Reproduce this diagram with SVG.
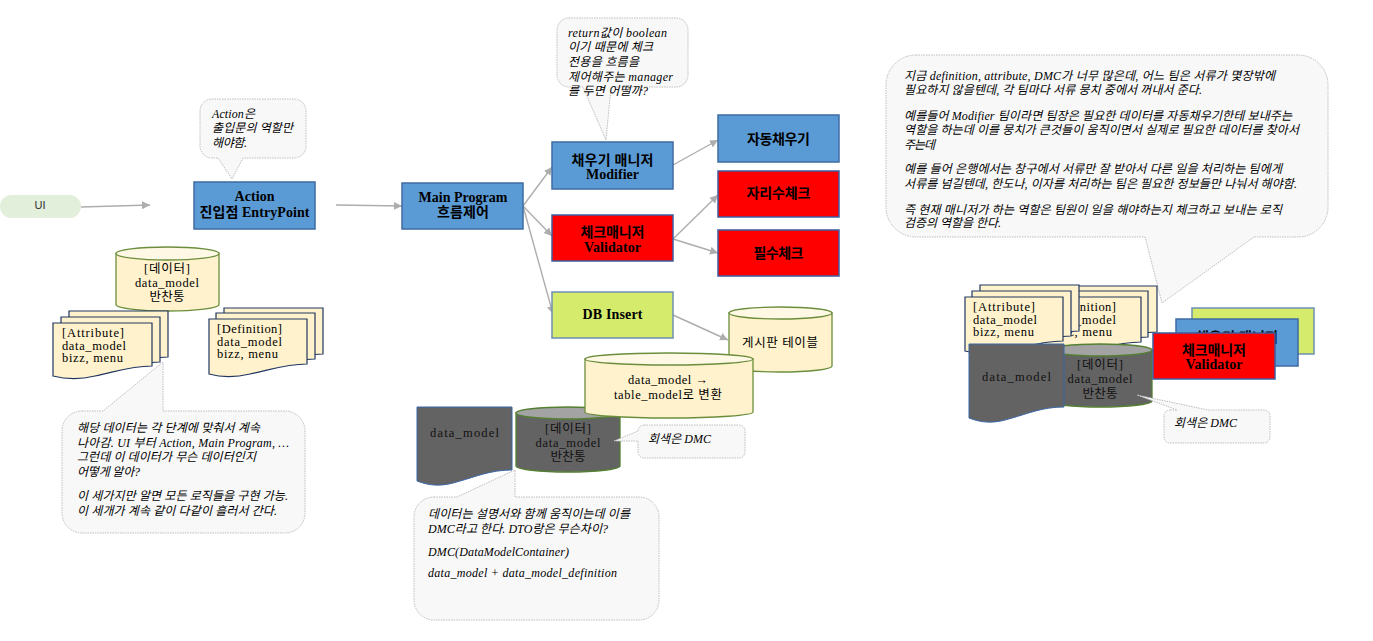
<svg xmlns="http://www.w3.org/2000/svg" width="1373" height="641" viewBox="0 0 1373 641">
<style>
text{font-family:"Liberation Serif","Noto Sans CJK KR",serif;fill:#000;font-size:13px}
.b{font-weight:bold;font-size:14px;text-anchor:middle}
.c{text-anchor:middle;font-size:12.500px}
.d{font-size:12.500px}
.n{font-style:italic;font-size:12px}
.g{fill:#111}
.blue{fill:#5B9BD5;stroke:#3E6BA3;stroke-width:1.5}
.red{fill:#FF0000;stroke:#3E5C9E;stroke-width:1.5}
.lime{fill:#D4EB6C;stroke:#6F8FB0;stroke-width:1.5}
.call{fill:#F8F8F8;stroke:#BDBDBD;stroke-width:1;stroke-dasharray:1.5 1}
.doc{fill:#FFF2CC;stroke:#20365F;stroke-width:1.2}
.gdoc{fill:#636363;stroke:#3A67A8;stroke-width:1}
.cy{fill:#FFF2CC;stroke:#6B8E3C;stroke-width:1.3}
.ct{fill:#FFF8E5;stroke:#6B8E3C;stroke-width:1.3}
.gy{fill:#636363;stroke:#557F33;stroke-width:1.3}
.gt{fill:#A3A3A3;stroke:#557F33;stroke-width:1.3}
.conn{fill:none;stroke:#ADADAD;stroke-width:1.4;marker-end:url(#arr)}
</style>
<defs>
<marker id="arr" markerUnits="userSpaceOnUse" markerWidth="9" markerHeight="9" refX="8" refY="4.5" orient="auto"><path d="M0,0.5L8,4.5L0,8.5Z" fill="#ADADAD"/></marker>
</defs>

<g id="connectors">
<path class="conn" d="M81,207L150,205"/>
<path class="conn" d="M336,205L402,206"/>
<path class="conn" d="M523,206L552,167"/>
<path class="conn" d="M523,206L552,236"/>
<path class="conn" d="M523,206L553,314"/>
<path class="conn" d="M673,165L718,140"/>
<path class="conn" d="M673,239L718,195"/>
<path class="conn" d="M673,239L718,253"/>
<path class="conn" d="M673,315L728,340"/>
</g>

<g id="ui"><rect x="0" y="195" width="81" height="23" rx="11.500" fill="#E2EFDA"/><text x="40" y="209" text-anchor="middle" style="font-family:'Liberation Sans',sans-serif;font-size:11px;fill:#333">UI</text></g>

<g id="note-action"><path class="call" d="M212,99H294A12,12 0 0 1 306,111V146A12,12 0 0 1 294,158H243L232,179L218,158H212A12,12 0 0 1 200,146V111A12,12 0 0 1 212,99Z"/>
<text class="n" x="212" y="118" textLength="43">Action은</text>
<text class="n" x="212" y="132" textLength="81">출입문의 역할만</text>
<text class="n" x="212" y="147" textLength="35">해야함.</text></g>

<g id="action"><rect class="blue" x="194" y="182" width="121" height="47"/>
<text class="b" x="254.500" y="201" textLength="40">Action</text>
<text class="b" x="254.500" y="217" textLength="110">진입점 EntryPoint</text></g>

<g id="main"><rect class="blue" x="402" y="183" width="121" height="46"/>
<text class="b" x="463" y="202" textLength="89">Main Program</text>
<text class="b" x="463" y="217" textLength="52">흐름제어</text></g>

<g id="note-return"><path class="call" d="M569,18H676A12,12 0 0 1 688,30V75A12,12 0 0 1 676,87H611L606,140L583,87H569A12,12 0 0 1 557,75V30A12,12 0 0 1 569,18Z"/>
<text class="n" x="568" y="37" textLength="99">return값이 boolean</text>
<text class="n" x="568" y="51" textLength="85">이기 때문에 체크</text>
<text class="n" x="568" y="66" textLength="71">전용을 흐름을</text>
<text class="n" x="568" y="81" textLength="105">제어해주는 manager</text>
<text class="n" x="568" y="95" textLength="80">를 두면 어떨까?</text></g>

<g id="modifier"><rect class="blue" x="552" y="142" width="121" height="47"/>
<text class="b" x="612.500" y="165" textLength="82">채우기 매니저</text>
<text class="b" x="612.500" y="179" textLength="53">Modifier</text></g>

<g id="validator"><rect class="red" x="552" y="215" width="121" height="46"/>
<text class="b" x="612.500" y="237" textLength="64">체크매니저</text>
<text class="b" x="612.500" y="252" textLength="57">Validator</text></g>

<g id="dbinsert"><rect class="lime" x="552" y="292" width="121" height="46"/>
<text class="b" x="612.500" y="319" textLength="60">DB Insert</text></g>

<g id="autofill"><rect class="blue" x="718" y="115" width="121" height="47"/>
<text class="b" x="778.500" y="144" textLength="63">자동채우기</text></g>
<g id="digits"><rect class="red" x="718" y="171" width="121" height="46"/>
<text class="b" x="778.500" y="198" textLength="64">자리수체크</text></g>
<g id="required"><rect class="red" x="718" y="230" width="121" height="46"/>
<text class="b" x="778.500" y="258" textLength="50">필수체크</text></g>

<g id="data-cyl"><path class="cy" d="M116,253.500V304.500A51.500,6.500 0 0 0 219,304.500V253.500Z"/><ellipse class="ct" cx="167.500" cy="253.500" rx="51.500" ry="6.500"/>
<text class="c" x="167" y="273" textLength="46">[데이터]</text>
<text class="c" x="167" y="287" textLength="64">data_model</text>
<text class="c" x="167" y="301" textLength="35">반찬통</text></g>

<g id="attribute-docs">
<path class="doc" d="M69,311h99v46c-22,0 -37,6 -57,10c-17,4 -30,3 -42,0z"/>
<path class="doc" d="M61,317h99v45c-22,0 -37,6 -57,10c-17,4 -30,3 -42,0z"/>
<path class="doc" d="M53,323h99v43c-22,0 -37,6 -57,10c-17,4 -30,3 -42,0z"/>
<text class="d" x="62" y="337" textLength="62">[Attribute]</text>
<text class="d" x="62" y="350" textLength="64">data_model</text>
<text class="d" x="62" y="362" textLength="61">bizz, menu</text></g>

<g id="definition-docs">
<path class="doc" d="M224,308h99v46c-22,0 -37,6 -57,10c-17,4 -30,3 -42,0z"/>
<path class="doc" d="M216,313h99v46c-22,0 -37,6 -57,10c-17,4 -30,3 -42,0z"/>
<path class="doc" d="M209,319h98v45c-22,0 -37,6 -57,10c-17,4 -30,3 -41,0z"/>
<text class="d" x="217" y="333" textLength="65">[Definition]</text>
<text class="d" x="217" y="346" textLength="65">data_model</text>
<text class="d" x="217" y="358" textLength="61">bizz, menu</text></g>

<g id="note-data"><path class="call" d="M82,411H103L163,362V411H285A20,20 0 0 1 305,431V513A20,20 0 0 1 285,533H82A20,20 0 0 1 62,513V431A20,20 0 0 1 82,411Z"/>
<text class="n" x="77" y="432" textLength="183">해당 데이터는 각 단계에 맞춰서 계속</text>
<text class="n" x="77" y="447" textLength="212">나아감. UI 부터 Action, Main Program, …</text>
<text class="n" x="77" y="461" textLength="179">그런데 이 데이터가 무슨 데이터인지</text>
<text class="n" x="77" y="476" textLength="63">어떻게 알아?</text>
<text class="n" x="77" y="500" textLength="211">이 세가지만 알면 모든 로직들을 구현 가능.</text>
<text class="n" x="77" y="515" textLength="200">이 세개가 계속 같이 다같이 흘러서 간다.</text></g>

<g id="board-table"><path class="cy" d="M729,313V366A51.500,6 0 0 0 832,366V313Z"/><ellipse class="ct" cx="780.500" cy="313" rx="51.500" ry="6"/>
<text class="c" x="780" y="347" textLength="76">게시판 테이블</text></g>

<g id="gray-cyl"><path class="gy" d="M516,413V466A52,6 0 0 0 620,466V413Z"/><ellipse class="gt" cx="568" cy="413" rx="52" ry="6"/>
<text class="c g" x="568" y="433" textLength="46">[데이터]</text>
<text class="c g" x="568" y="447" textLength="65">data_model</text>
<text class="c g" x="568" y="461" textLength="35">반찬통</text></g>

<g id="convert-cyl"><path class="cy" d="M585,359V412A84,6 0 0 0 753,412V359Z"/><ellipse class="ct" cx="669" cy="359" rx="84" ry="6"/>
<text class="c" x="668" y="384" textLength="80">data_model →</text>
<text class="c" x="668" y="399" textLength="108">table_model로 변환</text></g>

<g id="gray-doc"><path class="gdoc" d="M417,407H512V470C490,470 475,477 460,481C442,487 430,486 417,481Z"/>
<text class="d g" x="430" y="437" textLength="69">data_model</text></g>

<g id="note-dmc"><path class="call" d="M644,425H739A6,6 0 0 1 745,431V452A6,6 0 0 1 739,458H644A6,6 0 0 1 638,452V441L614,441L638,431A6,6 0 0 1 644,425Z"/>
<text class="n" x="648" y="443" textLength="63">회색은 DMC</text></g>

<g id="note-dmc-desc"><path class="call" d="M434,497H457L515,470V497H639A20,20 0 0 1 659,517V600A20,20 0 0 1 639,620H434A20,20 0 0 1 414,600V517A20,20 0 0 1 434,497Z"/>
<text class="n" x="428" y="518" textLength="202">데이터는 설명서와 함께 움직이는데 이를</text>
<text class="n" x="428" y="533" textLength="180">DMC라고 한다. DTO랑은 무슨차이?</text>
<text class="n" x="428" y="556" textLength="141">DMC(DataModelContainer)</text>
<text class="n" x="428" y="577" textLength="189">data_model + data_model_definition</text></g>

<g id="note-manager"><path class="call" d="M916,55H1298A30,30 0 0 1 1328,85V207A30,30 0 0 1 1298,237H1254L1162,303L1145,237H916A30,30 0 0 1 886,207V85A30,30 0 0 1 916,55Z"/>
<text class="n" x="904" y="80" textLength="371">지금 definition, attribute, DMC가 너무 많은데, 어느 팀은 서류가 몇장밖에</text>
<text class="n" x="904" y="94" textLength="298">필요하지 않을텐데, 각 팀마다 서류 뭉치 중에서 꺼내서 준다.</text>
<text class="n" x="904" y="120" textLength="388">예를들어 Modifier 팀이라면 팀장은 필요한 데이터를 자동채우기한테 보내주는</text>
<text class="n" x="904" y="134" textLength="395">역할을 하는데 이를 뭉치가 큰것들이 움직이면서 실제로 필요한 데이터를 찾아서</text>
<text class="n" x="904" y="149" textLength="31">주는데</text>
<text class="n" x="904" y="173" textLength="378">예를 들어 은행에서는 창구에서 서류만 잘 받아서 다른 일을 처리하는 팀에게</text>
<text class="n" x="904" y="188" textLength="393">서류를 넘길텐데, 한도나, 이자를 처리하는 팀은 필요한 정보들만 나눠서 해야함.</text>
<text class="n" x="904" y="214" textLength="378">즉 현재 매니저가 하는 역할은 팀원이 일을 해야하는지 체크하고 보내는 로직</text>
<text class="n" x="904" y="227" textLength="97">검증의 역할을 한다.</text></g>

<g id="definition-docs-2">
<path class="doc" d="M1058,286h99v46c-22,0 -37,6 -57,10c-17,4 -30,3 -42,0z"/>
<path class="doc" d="M1050,291h98v46c-22,0 -37,6 -57,10c-17,4 -30,3 -41,0z"/>
<path class="doc" d="M1042,297h99v45c-22,0 -37,6 -57,10c-17,4 -30,3 -42,0z"/>
<text class="d" x="1051" y="311" textLength="65">[Definition]</text>
<text class="d" x="1051" y="323.500" textLength="65">data_model</text>
<text class="d" x="1051" y="336" textLength="61">bizz, menu</text></g>

<g id="attribute-docs-2">
<path class="doc" d="M980,285h99v46c-22,0 -37,6 -57,10c-17,4 -30,3 -42,0z"/>
<path class="doc" d="M972,291h99v45c-22,0 -37,6 -57,10c-17,4 -30,3 -42,0z"/>
<path class="doc" d="M965,297h98v44c-22,0 -37,6 -57,10c-17,4 -30,3 -41,0z"/>
<text class="d" x="973" y="311" textLength="62">[Attribute]</text>
<text class="d" x="973" y="323.500" textLength="64">data_model</text>
<text class="d" x="973" y="336" textLength="61">bizz, menu</text></g>

<g id="gray-cyl-2"><path class="gy" d="M1049,350V401A51.500,6 0 0 0 1152,401V350Z"/><ellipse class="gt" cx="1100.500" cy="350" rx="51.500" ry="6"/>
<text class="c g" x="1100" y="369" textLength="46">[데이터]</text>
<text class="c g" x="1100" y="383" textLength="65">data_model</text>
<text class="c g" x="1100" y="398" textLength="35">반찬통</text></g>

<g id="gray-doc-2"><path class="gdoc" d="M969,344H1064V407C1042,407 1027,414 1012,418C994,424 982,423 969,418Z"/>
<text class="d g" x="982" y="381" textLength="69">data_model</text></g>

<g id="stack-dbinsert"><rect class="lime" x="1192" y="308" width="122" height="46"/></g>
<g id="stack-modifier"><rect class="blue" x="1176" y="319" width="122" height="47"/>
<text class="b" x="1237" y="342" textLength="82">채우기 매니저</text></g>
<g id="stack-validator"><rect class="red" x="1153" y="333" width="122" height="46"/>
<text class="b" x="1214" y="355" textLength="64">체크매니저</text>
<text class="b" x="1214" y="369" textLength="57">Validator</text></g>

<g id="note-dmc-2"><path class="call" d="M1170,410H1177L1137,395L1208,410H1264A6,6 0 0 1 1270,416V437A6,6 0 0 1 1264,443H1170A6,6 0 0 1 1164,437V416A6,6 0 0 1 1170,410Z"/>
<text class="n" x="1174" y="427" textLength="63">회색은 DMC</text></g>
</svg>
